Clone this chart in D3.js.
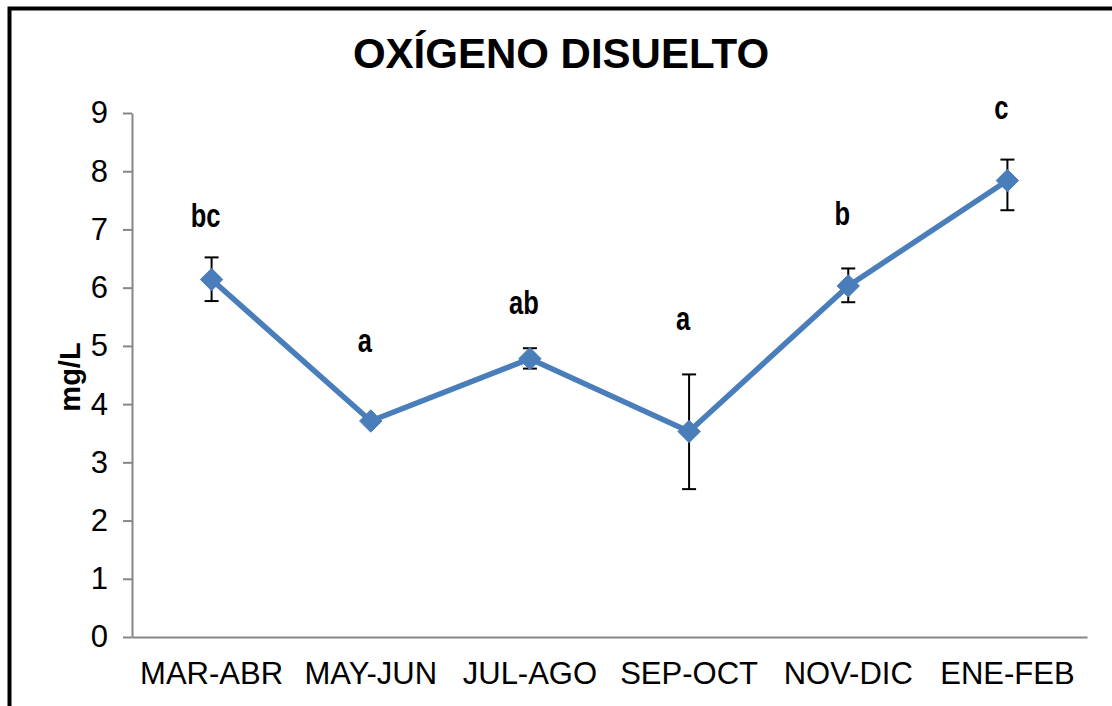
<!DOCTYPE html>
<html>
<head>
<meta charset="utf-8">
<script src="https://cdn.jsdelivr.net/npm/d3@7"></script>
<style>
  body { margin: 0; background: #fff; }
  svg { display: block; font-family: "Liberation Sans", Arial, sans-serif; }
</style>
</head>
<body>
<div id="chart"></div>
<script>
// Data
const categories = ["MAR-ABR", "MAY-JUN", "JUL-AGO", "SEP-OCT", "NOV-DIC", "ENE-FEB"];
const values = [6.14, 3.71, 4.78, 3.53, 6.03, 7.84];
const errUp = [0.38, 0.05, 0.18, 0.98, 0.30, 0.36];
const errDown = [0.37, 0.05, 0.17, 0.99, 0.28, 0.51];
const groups = ["bc", "a", "ab", "a", "b", "c"];
const groupValues = [7.04, 4.89, 5.54, 5.27, 7.07, 8.90]; // baseline level of the letters
const yTicks = [0, 1, 2, 3, 4, 5, 6, 7, 8, 9];

const width = 1112;
const height = 706;
const marginTop = 113;
const marginRight = 25;
const marginBottom = 69;
const marginLeft = 132;

const x = d3.scaleBand()
    .domain(categories)
    .range([marginLeft, width - marginRight])
    .padding(0);

const y = d3.scaleLinear()
    .domain([0, 9])
    .range([height - marginBottom, marginTop]);

const cx = (d) => x(d) + x.bandwidth() / 2;

const svg = d3.select("#chart").append("svg")
    .attr("width", width)
    .attr("height", height)
    .attr("viewBox", [0, 0, width, height]);

// Outer frame (right and bottom edges run off the picture)
svg.append("rect")
    .attr("x", 9.5)
    .attr("y", 8.5)
    .attr("width", width + 20)
    .attr("height", height + 20)
    .attr("fill", "none")
    .attr("stroke", "#000")
    .attr("stroke-width", 4);

// Title
svg.append("text")
    .attr("x", 561)
    .attr("y", 68)
    .attr("text-anchor", "middle")
    .attr("font-weight", "bold")
    .attr("font-size", 42)
    .attr("fill", "#000")
    .text("OXÍGENO DISUELTO");

// Y axis
svg.append("g")
    .attr("transform", `translate(${marginLeft},0)`)
    .call(d3.axisLeft(y).tickValues(yTicks).tickSize(9).tickPadding(15).tickSizeOuter(0))
    .call(g => g.selectAll("line, path").attr("stroke", "#868686").attr("stroke-width", 2))
    .call(g => g.selectAll("text").attr("font-size", 31).attr("fill", "#000")
        .attr("font-family", "Liberation Sans, Arial, sans-serif"));

// X axis
svg.append("g")
    .attr("transform", `translate(0,${height - marginBottom})`)
    .call(d3.axisBottom(x).tickSize(0).tickPadding(25).tickSizeOuter(0))
    .call(g => g.selectAll("path").attr("stroke", "#868686").attr("stroke-width", 2))
    .call(g => g.selectAll("text").attr("font-size", 31).attr("fill", "#000")
        .attr("font-family", "Liberation Sans, Arial, sans-serif"));

// Y axis label
svg.append("text")
    .attr("transform", `translate(80,${(y(4) + y(5)) / 2 + 2}) rotate(-90)`)
    .attr("text-anchor", "middle")
    .attr("font-weight", "bold")
    .attr("font-size", 29)
    .text("mg/L");

const series = categories.map((c, i) => ({
    cat: c, v: values[i], up: errUp[i], down: errDown[i], g: groups[i], gv: groupValues[i]
}));

// Line
svg.append("path")
    .datum(series)
    .attr("fill", "none")
    .attr("stroke", "#4A7EBB")
    .attr("stroke-width", 5.5)
    .attr("stroke-linejoin", "round")
    .attr("d", d3.line().x(d => cx(d.cat)).y(d => y(d.v)));

// Error bars
const err = svg.append("g")
    .attr("stroke", "#000")
    .attr("stroke-width", 2);

err.selectAll("line.v")
    .data(series)
    .join("line")
    .attr("class", "v")
    .attr("x1", d => cx(d.cat))
    .attr("x2", d => cx(d.cat))
    .attr("y1", d => y(d.v + d.up))
    .attr("y2", d => y(d.v - d.down));

err.selectAll("line.top")
    .data(series)
    .join("line")
    .attr("class", "top")
    .attr("x1", d => cx(d.cat) - 7)
    .attr("x2", d => cx(d.cat) + 7)
    .attr("y1", d => y(d.v + d.up))
    .attr("y2", d => y(d.v + d.up));

err.selectAll("line.bot")
    .data(series)
    .join("line")
    .attr("class", "bot")
    .attr("x1", d => cx(d.cat) - 7)
    .attr("x2", d => cx(d.cat) + 7)
    .attr("y1", d => y(d.v - d.down))
    .attr("y2", d => y(d.v - d.down));

// Diamond markers
svg.append("g")
    .selectAll("path")
    .data(series)
    .join("path")
    .attr("transform", d => `translate(${cx(d.cat)},${y(d.v)})`)
    .attr("d", d3.symbol(d3.symbolDiamond2, 320))
    .attr("fill", "#4A7EBB")
    .attr("stroke", "#4A7EBB")
    .attr("stroke-width", 1);

// Significance letters
svg.append("g")
    .selectAll("text")
    .data(series)
    .join("text")
    .attr("transform", d => `translate(${cx(d.cat) - 6},${y(d.gv)}) scale(0.75,1)`)
    .attr("text-anchor", "middle")
    .attr("font-weight", "bold")
    .attr("font-size", 34)
    .attr("fill", "#000")
    .text(d => d.g);
</script>
</body>
</html>
